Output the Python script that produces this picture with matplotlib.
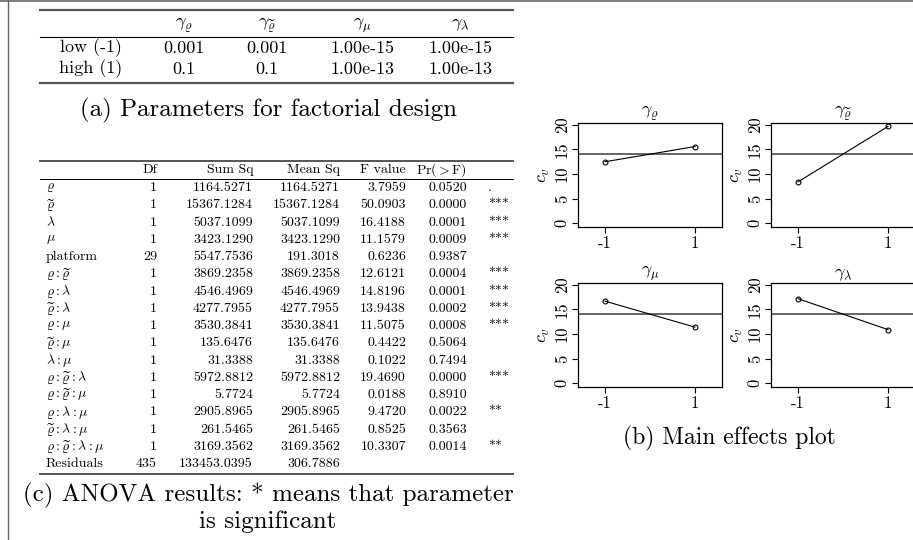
import matplotlib.pyplot as plt
from matplotlib.lines import Line2D

plt.rcParams['font.family'] = 'cmr10'
plt.rcParams['mathtext.fontset'] = 'cm'
plt.rcParams['axes.formatter.use_mathtext'] = True

# (a) factorial design parameters
param_names = [r'$\gamma_\varrho$', r'$\gamma_{\widetilde{\varrho}}$', r'$\gamma_\mu$', r'$\gamma_\lambda$']
level_names = ['low (-1)', 'high (1)']
low_values = ['0.001', '0.001', '1.00e-15', '1.00e-15']
high_values = ['0.1', '0.1', '1.00e-13', '1.00e-13']

# (c) ANOVA table
anova_terms = [r'$\varrho$', r'$\widetilde{\varrho}$', r'$\lambda$', r'$\mu$', 'platform',
               r'$\varrho:\widetilde{\varrho}$', r'$\varrho:\lambda$', r'$\widetilde{\varrho}:\lambda$',
               r'$\varrho:\mu$', r'$\widetilde{\varrho}:\mu$', r'$\lambda:\mu$',
               r'$\varrho:\widetilde{\varrho}:\lambda$', r'$\varrho:\widetilde{\varrho}:\mu$',
               r'$\varrho:\lambda:\mu$', r'$\widetilde{\varrho}:\lambda:\mu$',
               r'$\varrho:\widetilde{\varrho}:\lambda:\mu$', 'Residuals']
anova_df = [1, 1, 1, 1, 29, 1, 1, 1, 1, 1, 1, 1, 1, 1, 1, 1, 435]
anova_sumsq = [1164.5271, 15367.1284, 5037.1099, 3423.1290, 5547.7536, 3869.2358, 4546.4969,
               4277.7955, 3530.3841, 135.6476, 31.3388, 5972.8812, 5.7724, 2905.8965,
               261.5465, 3169.3562, 133453.0395]
anova_meansq = [1164.5271, 15367.1284, 5037.1099, 3423.1290, 191.3018, 3869.2358, 4546.4969,
                4277.7955, 3530.3841, 135.6476, 31.3388, 5972.8812, 5.7724, 2905.8965,
                261.5465, 3169.3562, 306.7886]
anova_f = [3.7959, 50.0903, 16.4188, 11.1579, 0.6236, 12.6121, 14.8196, 13.9438, 11.5075,
           0.4422, 0.1022, 19.4690, 0.0188, 9.4720, 0.8525, 10.3307, None]
anova_p = [0.0520, 0.0000, 0.0001, 0.0009, 0.9387, 0.0004, 0.0001, 0.0002, 0.0008, 0.5064,
           0.7494, 0.0000, 0.8910, 0.0022, 0.3563, 0.0014, None]
anova_stars = ['.', '***', '***', '***', '', '***', '***', '***', '***', '', '', '***', '',
               '**', '', '**', '']

# (b) main effects: mean c_v at low / high level
effect_titles = [r'$\gamma_\varrho$', r'$\gamma_{\widetilde{\varrho}}$', r'$\gamma_\mu$', r'$\gamma_\lambda$']
levels = [-1, 1]
effect_means = [[12.5, 15.6], [8.4, 19.7], [16.7, 11.4], [17.2, 10.9]]
grand_mean = 14.05

W, H = 913, 540
fig = plt.figure(figsize=(W / 100, H / 100), dpi=100)


def fx(px):
    return px / W


def fy(py):
    return 1 - py / H


def hline(y, x0, x1, lw, color='black'):
    fig.add_artist(Line2D([fx(x0), fx(x1)], [fy(y), fy(y)], lw=lw, color=color))


# frame around the figure
fig.add_artist(Line2D([fx(8), fx(8)], [0, 1], lw=1, color='#666666'))
hline(1, 0, W, 1.2, '#666666')

# ---- table (a)
tab_l, tab_r = 40, 513
hline(10, tab_l, tab_r, 1.6, '#555555')
hline(37, tab_l, tab_r, 0.8)
hline(83, tab_l, tab_r, 1.6, '#555555')
col_x = [184, 267, 362, 460]
for x, name in zip(col_x, param_names):
    fig.text(fx(x), fy(25), name, ha='center', va='center', fontsize=13)
for y, lev, vals in zip([48, 69], level_names, [low_values, high_values]):
    fig.text(fx(91), fy(y), lev, ha='center', va='center', fontsize=13)
    for x, v in zip(col_x, vals):
        fig.text(fx(x), fy(y), v, ha='center', va='center', fontsize=13)
fig.text(fx(268), fy(110), '(a) Parameters for factorial design', ha='center', va='center', fontsize=18)

# ---- table (c)
fs = 10
hline(161, tab_l, tab_r, 1.4, '#555555')
hline(179, tab_l, tab_r, 0.7)
hline(474, tab_l, tab_r, 1.4, '#555555')
head_x = [157, 253, 340, 406, 467]
head_txt = ['Df', 'Sum Sq', 'Mean Sq', 'F value', r'Pr($>$F)']
for x, t in zip(head_x, head_txt):
    fig.text(fx(x), fy(170), t, ha='right', va='center', fontsize=fs)
row0, step = 188, 17.25
for i, term in enumerate(anova_terms):
    y = fy(row0 + i * step)
    fig.text(fx(46), y, term, ha='left', va='center', fontsize=fs)
    cells = [str(anova_df[i]), '%.4f' % anova_sumsq[i], '%.4f' % anova_meansq[i],
             '' if anova_f[i] is None else '%.4f' % anova_f[i],
             '' if anova_p[i] is None else '%.4f' % anova_p[i]]
    for x, c in zip(head_x, cells):
        fig.text(fx(x), y, c, ha='right', va='center', fontsize=fs)
    fig.text(fx(488), y, anova_stars[i], ha='left', va='center', fontsize=fs)
fig.text(fx(268), fy(495), '(c) ANOVA results: * means that parameter', ha='center', va='center', fontsize=18)
fig.text(fx(268), fy(522), 'is significant', ha='center', va='center', fontsize=18)

# ---- main effects plots (b)
ax_left = [578, 771]
ax_top = [123, 283]
aw, ah = 144, 104
for k in range(4):
    r, c = divmod(k, 2)
    ax = fig.add_axes([fx(ax_left[c]), fy(ax_top[r] + ah), aw / W, ah / H])
    ax.axhline(grand_mean, color='#666666', lw=1.4)
    ax.plot(levels, effect_means[k], color='black', lw=0.8, marker='o', ms=3.5,
            mfc='none', mew=0.8)
    ax.set_xlim(-1.6, 1.6)
    ax.set_ylim(-0.8, 20.4)
    ax.set_xticks(levels)
    ax.set_xticklabels(['-1', '1'], fontsize=12)
    ax.set_yticks([0, 5, 10, 15, 20])
    ax.set_yticklabels(['0', '5', '10', '15', '20'], fontsize=12, rotation=90, va='center')
    ax.tick_params(direction='out', length=4, width=0.8, pad=2)
    for s in ax.spines.values():
        s.set_linewidth(0.9)
    ax.set_ylabel(r'$c_v$', fontsize=13, labelpad=2)
    ax.set_title(effect_titles[k], fontsize=13, pad=3)

fig.text(fx(729), fy(438), '(b) Main effects plot', ha='center', va='center', fontsize=17)

fig.savefig('out.png', dpi=100)
